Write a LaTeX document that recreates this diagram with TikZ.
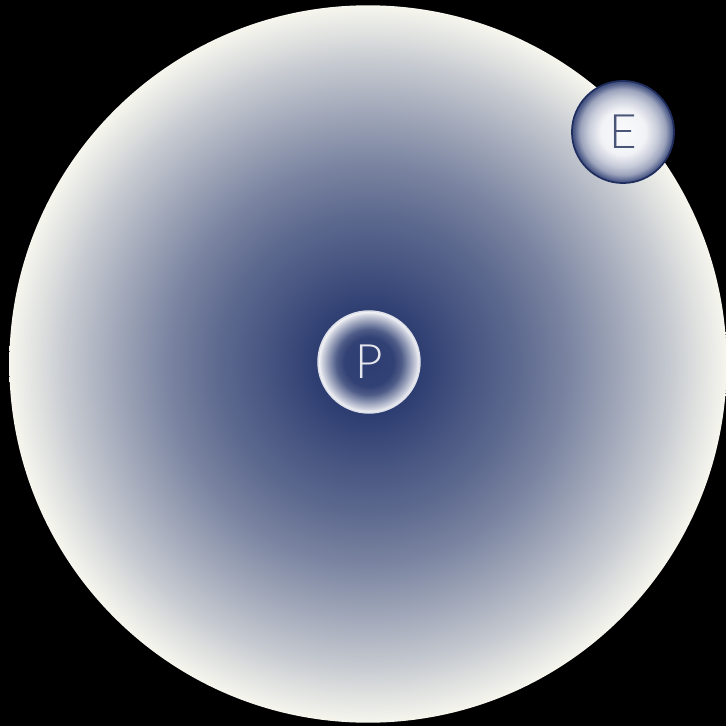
\documentclass[tikz,border=0pt]{standalone}
\usepackage{fontspec}
\newfontfamily\thinfont{Lato Light}
\definecolor{navy}{HTML}{22336A}
\definecolor{cream}{HTML}{F6F6EE}
\definecolor{ptext}{HTML}{E6E8EE}
\definecolor{etext}{HTML}{4A5578}
\pgfdeclareradialshading{atomshade}{\pgfpoint{0bp}{0bp}}{%
  color(0bp)=(navy);
  color(3.5bp)=(navy!95!cream);
  color(7bp)=(navy!83!cream);
  color(10.5bp)=(navy!72!cream);
  color(14bp)=(navy!58!cream);
  color(17.5bp)=(navy!41!cream);
  color(21bp)=(navy!23!cream);
  color(23bp)=(navy!11!cream);
  color(25bp)=(cream);
  color(50bp)=(cream)}
\pgfdeclareradialshading{protonshade}{\pgfpoint{0bp}{0bp}}{%
  color(0bp)=(navy!95!white);
  color(12bp)=(navy!93!white);
  color(16bp)=(navy!80!white);
  color(20bp)=(navy!48!white);
  color(23bp)=(white!78!navy);
  color(24.5bp)=(white!94!navy);
  color(25bp)=(white!92!navy);
  color(50bp)=(white!92!navy)}
\pgfdeclareradialshading{electronshade}{\pgfpoint{0bp}{0bp}}{%
  color(0bp)=(white!98!navy);
  color(11bp)=(white!94!navy);
  color(17bp)=(white!75!navy);
  color(21bp)=(navy!45!white);
  color(24bp)=(navy!80!white);
  color(25bp)=(navy!85!white);
  color(50bp)=(navy!85!white)}
\tikzset{
  px/.style={x=0.01cm,y=0.01cm},
  particle/.style={circle,minimum size=1.02cm,inner sep=0pt,font=\thinfont\fontsize{13.5}{14}\selectfont},
  protonball/.style={particle,shading=protonshade,draw=white!85!navy,line width=0.4pt,text=ptext},
  electronball/.style={particle,shading=electronshade,draw=navy!90!black,line width=0.5pt,text=etext}
}
\begin{document}
\begin{tikzpicture}[px]
\fill[black] (0,0) rectangle (726,726);
\useasboundingbox (0,0) rectangle (726,726);
\node[circle,minimum size=7.17cm,inner sep=0pt,shading=atomshade] (atom) at (368,362) {};
\node[protonball] (P) at (369,364) {P};
\node[electronball] (E) at (623,594) {E};
\end{tikzpicture}
\end{document}
